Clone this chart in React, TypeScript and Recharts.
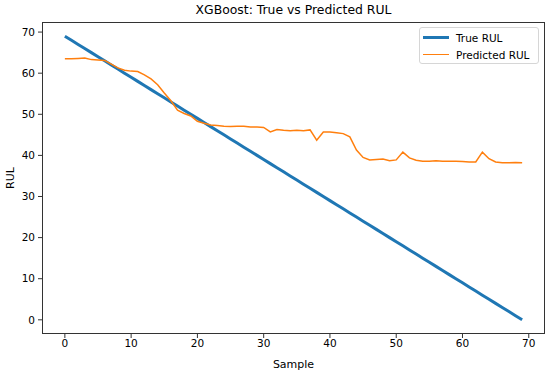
import { Line, LineChart, XAxis, YAxis, Label } from 'recharts';

const samples = [
  0, 1, 2, 3, 4, 5, 6, 7, 8, 9, 10, 11, 12, 13, 14, 15, 16, 17, 18, 19, 20, 21, 22, 23, 24, 25, 26, 27, 28, 29, 30, 31, 32, 33,
  34, 35, 36, 37, 38, 39, 40, 41, 42, 43, 44, 45, 46, 47, 48, 49, 50, 51, 52, 53, 54, 55, 56, 57, 58, 59, 60, 61, 62, 63, 64,
  65, 66, 67, 68, 69,
];

const trueRul = [
  69, 68, 67, 66, 65, 64, 63, 62, 61, 60, 59, 58, 57, 56, 55, 54, 53, 52, 51, 50, 49, 48, 47, 46, 45, 44, 43, 42, 41, 40, 39,
  38, 37, 36, 35, 34, 33, 32, 31, 30, 29, 28, 27, 26, 25, 24, 23, 22, 21, 20, 19, 18, 17, 16, 15, 14, 13, 12, 11, 10, 9, 8, 7,
  6, 5, 4, 3, 2, 1, 0,
];

const predictedRul = [
  63.5, 63.5, 63.6, 63.7, 63.3, 63.2, 63.1, 62.2, 61.3, 60.7, 60.5, 60.4, 59.6, 58.6, 57.2, 55.2, 53.3, 51.0, 50.2, 49.6,
  48.3, 47.8, 47.4, 47.3, 47.1, 47.0, 47.1, 47.1, 46.9, 46.9, 46.8, 45.7, 46.3, 46.1, 46.0, 46.1, 46.0, 46.2, 43.7, 45.7,
  45.7, 45.5, 45.3, 44.5, 41.3, 39.5, 38.9, 39.0, 39.1, 38.7, 38.9, 40.8, 39.4, 38.8, 38.6, 38.6, 38.7, 38.6, 38.6, 38.6,
  38.5, 38.4, 38.4, 40.8, 39.2, 38.4, 38.2, 38.2, 38.3, 38.2,
];

const ticks = [0, 10, 20, 30, 40, 50, 60, 70];

const data = samples.map((s, i) => ({ sample: s, trueRul: trueRul[i], predicted: predictedRul[i] }));

const FONT = '"DejaVu Sans", sans-serif';

// plot box in page pixels
const PLOT = { left: 42, top: 22, width: 503, height: 312 };

function LegendBox() {
  const row = (color: string, w: number, text: string) => (
    <div style={{ display: 'flex', alignItems: 'center', height: 17 }}>
      <div style={{ width: 26, height: w, background: color, marginRight: 7 }} />
      <span>{text}</span>
    </div>
  );
  return (
    <div
      style={{
        position: 'absolute',
        left: 419,
        top: 27,
        width: 120,
        height: 37,
        boxSizing: 'border-box',
        border: '1px solid #d6d6d6',
        borderRadius: 3,
        background: 'white',
        padding: '1px 0 0 3px',
        fontFamily: FONT,
        fontSize: 10.5,
        color: '#000',
      }}
    >
      {row('#1f77b4', 3, 'True RUL')}
      {row('#ff7f0e', 1.5, 'Predicted RUL')}
    </div>
  );
}

export default function App() {
  return (
    <div style={{ position: 'fixed', left: 0, top: 0, width: 550, height: 373, background: 'white' }}>
      <div
        style={{
          position: 'absolute',
          left: PLOT.left,
          width: PLOT.width,
          top: 2,
          textAlign: 'center',
          fontFamily: FONT,
          fontSize: 12.4,
          color: '#000',
        }}
      >
        XGBoost: True vs Predicted RUL
      </div>
      <LineChart width={550} height={373} data={data} margin={{ top: PLOT.top, right: 5, bottom: 0, left: 0 }}>
        <XAxis
          dataKey='sample'
          type='number'
          domain={[-3.45, 72.45]}
          ticks={ticks}
          allowDataOverflow
          height={39}
          axisLine={false}
          tickLine={{ stroke: '#333' }}
          tickSize={4}
          tickMargin={2}
          tick={{ fill: '#000', fontSize: 10.5, fontFamily: FONT }}
        >
          <Label value='Sample' position='insideBottom' offset={5} style={{ fill: '#000', fontSize: 11, fontFamily: FONT }} />
        </XAxis>
        <YAxis
          type='number'
          domain={[-3.45, 72.45]}
          ticks={ticks}
          allowDataOverflow
          width={42}
          axisLine={false}
          tickLine={{ stroke: '#333' }}
          tickSize={4}
          tickMargin={3}
          tick={{ fill: '#000', fontSize: 10.5, fontFamily: FONT }}
        />
        <Line
          dataKey='trueRul'
          name='True RUL'
          stroke='#1f77b4'
          strokeWidth={3}
          dot={false}
          isAnimationActive={false}
        />
        <Line
          dataKey='predicted'
          name='Predicted RUL'
          stroke='#ff7f0e'
          strokeWidth={1.5}
          dot={false}
          isAnimationActive={false}
        />
      </LineChart>
      {/* y axis label */}
      <div
        style={{
          position: 'absolute',
          left: 10,
          top: PLOT.top + PLOT.height / 2,
          transform: 'translate(-50%, -50%) rotate(-90deg)',
          fontFamily: FONT,
          fontSize: 11,
          color: '#000',
          whiteSpace: 'nowrap',
        }}
      >
        RUL
      </div>
      <LegendBox />
      {/* axes frame */}
      <div
        style={{
          position: 'absolute',
          left: PLOT.left,
          top: PLOT.top,
          width: PLOT.width,
          height: PLOT.height,
          boxSizing: 'border-box',
          border: '1px solid #333',
          pointerEvents: 'none',
        }}
      />
    </div>
  );
}
